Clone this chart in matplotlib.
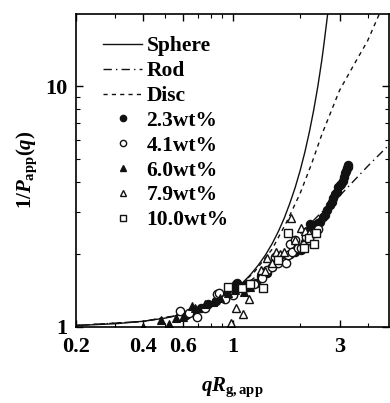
import matplotlib
matplotlib.use('Agg')
import matplotlib.pyplot as plt
from matplotlib.lines import Line2D
from matplotlib.ticker import FixedLocator, NullFormatter

plt.rcParams['font.family'] = ['Liberation Serif', 'DejaVu Serif']
plt.rcParams['font.weight'] = 'bold'
plt.rcParams['mathtext.fontset'] = 'custom'
plt.rcParams['mathtext.rm'] = 'Liberation Serif:bold'
plt.rcParams['mathtext.it'] = 'Liberation Serif:italic:bold'
plt.rcParams['mathtext.bf'] = 'Liberation Serif:bold'

# model curves
sphere_x = [0.2, 0.3, 0.4, 0.5, 0.6, 0.7, 0.8, 0.9, 1.0, 1.1, 1.2, 1.3, 1.4, 1.5, 1.6, 1.7,
            1.8, 1.9, 2.0, 2.1, 2.2, 2.3, 2.4, 2.45, 2.5, 2.55, 2.6, 2.65, 2.7]
sphere_y = [1.013, 1.030, 1.055, 1.087, 1.128, 1.179, 1.243, 1.313, 1.406, 1.515, 1.645, 1.801,
            1.987, 2.213, 2.49, 2.83, 3.26, 3.78, 4.45, 5.31, 6.44, 7.94, 9.97, 11.3, 12.8,
            14.7, 17.0, 19.6, 23.0]
rod_x = [0.2, 0.4, 0.6, 0.8, 1.0, 1.5, 2.0, 2.5, 3.0, 3.5, 4.0, 4.5, 5.0]
rod_y = [1.013, 1.054, 1.125, 1.23, 1.361, 1.825, 2.43, 3.0, 3.5, 4.07, 4.64, 5.18, 5.71]
disc_x = [0.2, 0.4, 0.6, 0.8, 1.0, 1.25, 1.5, 1.75, 2.0, 2.25, 2.5, 3.0, 3.5, 4.0, 4.5, 4.8]
disc_y = [1.013, 1.054, 1.126, 1.235, 1.39, 1.69, 2.10, 2.75, 3.58, 4.75, 6.29, 9.6, 12.4,
          15.4, 19.8, 22.5]

# 2.3 wt%
c23_x = [0.62, 0.66, 0.72, 0.78, 0.84, 0.9, 0.95, 1.0, 1.03, 1.05, 1.08, 1.1, 1.14, 1.17, 1.2,
         1.27, 1.34, 1.42, 1.5, 1.6, 1.7, 1.8, 1.9, 2.02, 2.1, 2.17, 2.22, 2.32, 2.4, 2.45,
         2.52, 2.58, 2.65, 2.71, 2.77, 2.81, 2.87, 2.92, 2.96, 3.0, 3.06, 3.1, 3.14, 3.17,
         3.2, 3.24, 3.27, 3.29]
c23_y = [1.12, 1.15, 1.2, 1.24, 1.28, 1.33, 1.38, 1.42, 1.5, 1.52, 1.47, 1.45, 1.48, 1.47, 1.5,
         1.52, 1.62, 1.68, 1.78, 1.86, 1.94, 2.0, 2.05, 2.09, 2.25, 2.49, 2.67, 2.65, 2.7,
         2.73, 2.85, 2.91, 3.05, 3.21, 3.3, 3.42, 3.55, 3.65, 3.82, 3.9, 3.94, 4.05, 4.2,
         4.34, 4.42, 4.55, 4.62, 4.7]
# 4.1 wt%
c41_x = [0.58, 0.64, 0.69, 0.75, 0.85, 0.87, 0.92, 1.0, 1.12, 1.25, 1.35, 1.43, 1.5, 1.55,
         1.59, 1.68, 1.73, 1.76, 1.8, 1.85, 1.9, 1.96, 2.02, 2.09, 2.13, 2.2, 2.3, 2.4]
c41_y = [1.16, 1.14, 1.10, 1.2, 1.37, 1.38, 1.3, 1.35, 1.45, 1.5, 1.6, 1.72, 1.78, 1.95,
         1.84, 1.92, 1.84, 1.99, 2.2, 2.05, 2.3, 2.12, 2.13, 2.19, 2.36, 2.3, 2.45, 2.55]
# 6.0 wt%
t60_x = [0.40, 0.48, 0.52, 0.56, 0.6, 0.66, 0.68, 0.75, 0.82, 0.88, 0.95, 1.02, 1.08, 1.12,
         1.15, 1.2]
t60_y = [1.0, 1.07, 1.03, 1.09, 1.1, 1.22, 1.2, 1.25, 1.27, 1.32, 1.38, 1.42, 1.48, 1.4,
         1.52, 1.47]
# 7.9 wt%
t79_x = [0.98, 1.04, 1.11, 1.18, 1.34, 1.4, 1.43, 1.5, 1.56, 1.62, 1.7, 1.83, 1.9, 2.02, 2.1,
         2.2]
t79_y = [1.04, 1.2, 1.13, 1.3, 1.72, 1.7, 1.93, 1.85, 2.05, 2.0, 2.05, 2.82, 2.3, 2.57, 2.5,
         2.45]
# 10.0 wt%
s100_x = [0.95, 1.1, 1.2, 1.36, 1.6, 1.76, 2.09, 2.2, 2.3, 2.36]
s100_y = [1.47, 1.45, 1.5, 1.45, 1.9, 2.45, 2.12, 2.35, 2.2, 2.45]

fig = plt.figure(figsize=(3.9, 4.03), dpi=100)
ax = fig.add_axes([0.195, 0.189, 0.803, 0.777])

k = '#111111'
ax.plot(sphere_x, sphere_y, '-', color=k, lw=1.0)
ax.plot(rod_x, rod_y, color=k, lw=1.0, dashes=(6, 3, 1, 3))
ax.plot(disc_x, disc_y, color=k, lw=1.0, dashes=(3, 3))

ms = 6
ax.plot(c23_x, c23_y, 'o', ms=ms, mfc=k, mec=k, mew=0.8)
ax.plot(c41_x, c41_y, 'o', ms=ms, mfc='white', mec=k, mew=1.0)
ax.plot(t60_x, t60_y, '^', ms=ms, mfc=k, mec=k, mew=0.8)
ax.plot(t79_x, t79_y, '^', ms=ms, mfc='white', mec=k, mew=1.0)
ax.plot(s100_x, s100_y, 's', ms=ms, mfc='white', mec=k, mew=1.0)

ax.set_xscale('log')
ax.set_yscale('log')
ax.set_xlim(0.2, 5)
ax.set_ylim(1, 20)

ax.xaxis.set_major_locator(FixedLocator([0.2, 0.4, 0.6, 1, 3]))
ax.xaxis.set_minor_locator(FixedLocator([0.3, 0.5, 0.7, 0.8, 0.9, 2, 4]))
ax.set_xticklabels(['0.2', '0.4', '0.6', '1', '3'])
ax.xaxis.set_minor_formatter(NullFormatter())
ax.yaxis.set_major_locator(FixedLocator([1, 10]))
ax.yaxis.set_minor_locator(FixedLocator([2, 3, 4, 5, 6, 7, 8, 9]))
ax.set_yticklabels(['1', '10'])
ax.yaxis.set_minor_formatter(NullFormatter())
ax.tick_params(which='both', direction='in', top=True, right=True, labelsize=16, pad=6)
ax.tick_params(axis='x', pad=7)
ax.tick_params(which='major', length=5, width=1)
ax.tick_params(which='minor', length=3, width=0.8)
for s in ax.spines.values():
    s.set_linewidth(1.2)

ax.set_xlabel(r'$qR_{\mathrm{g,app}}$', fontsize=15, labelpad=14)
ax.set_ylabel(r'$\mathrm{1/}P_{\mathrm{app}}\mathrm{(}q\mathrm{)}$', fontsize=15, labelpad=5)

handles = [
    Line2D([], [], color=k, lw=1.0),
    Line2D([], [], color=k, lw=1.0, dashes=(6, 3, 1, 3)),
    Line2D([], [], color=k, lw=1.0, dashes=(3, 3)),
    Line2D([], [], ls='none', marker='o', ms=4.5, mfc=k, mec=k),
    Line2D([], [], ls='none', marker='o', ms=4.5, mfc='white', mec=k),
    Line2D([], [], ls='none', marker='^', ms=4.5, mfc=k, mec=k),
    Line2D([], [], ls='none', marker='^', ms=4.5, mfc='white', mec=k),
    Line2D([], [], ls='none', marker='s', ms=4.5, mfc='white', mec=k),
]
labels = ['Sphere', 'Rod', 'Disc', '2.3wt%', '4.1wt%', '6.0wt%', '7.9wt%', '10.0wt%']
ax.legend(handles, labels, loc='upper left', bbox_to_anchor=(0.06, 0.955), frameon=False,
          fontsize=15.5, handlelength=1.8, handletextpad=0.2, labelspacing=0.22,
          borderaxespad=0)

fig.savefig('out.png', dpi=100)
